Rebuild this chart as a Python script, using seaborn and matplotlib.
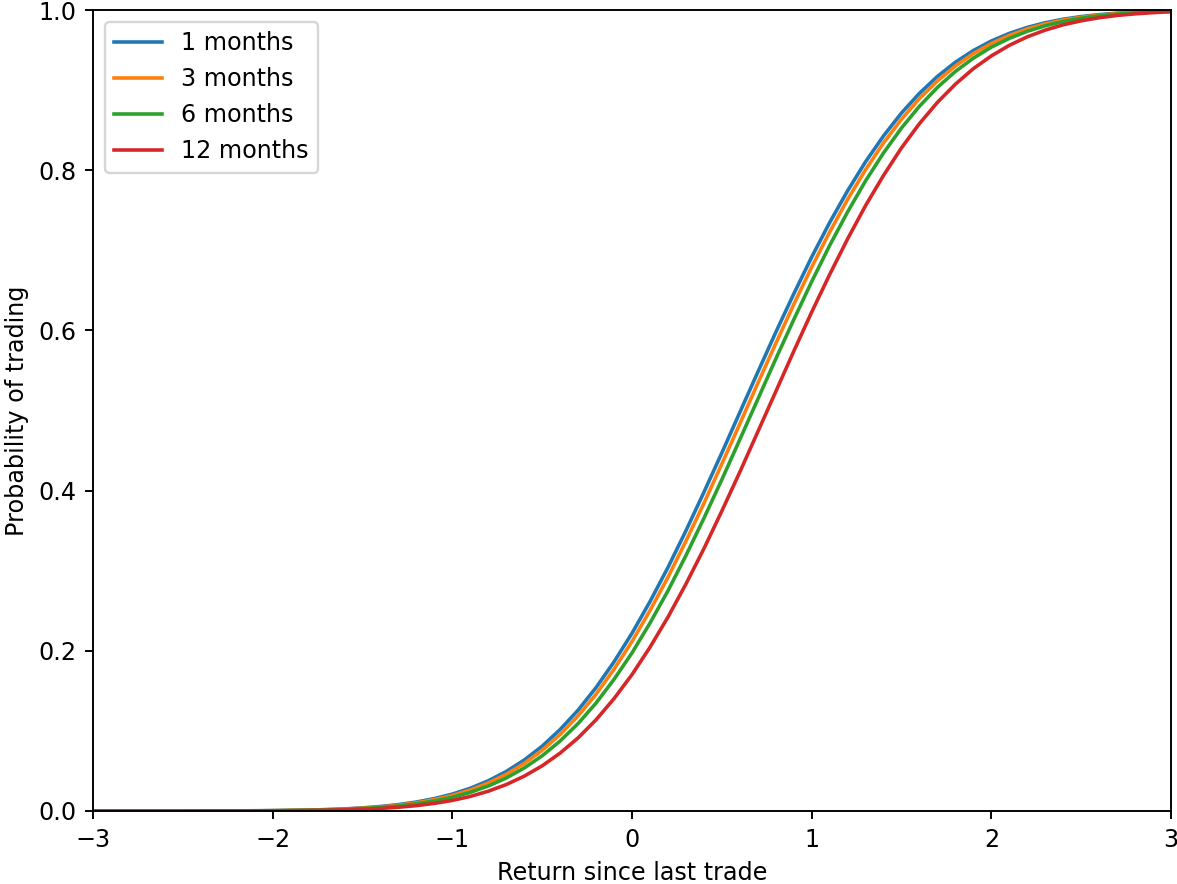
import numpy as np
import pandas as pd
import matplotlib
matplotlib.use("Agg")
import matplotlib.pyplot as plt
import seaborn as sns

# Return since last trade (evaluation grid)
returns = [-3.0, -2.9, -2.8, -2.7, -2.6, -2.5, -2.4, -2.3, -2.2, -2.1,
           -2.0, -1.9, -1.8, -1.7, -1.6, -1.5, -1.4, -1.3, -1.2, -1.1,
           -1.0, -0.9, -0.8, -0.7, -0.6, -0.5, -0.4, -0.3, -0.2, -0.1,
           0.0, 0.1, 0.2, 0.3, 0.4, 0.5, 0.6, 0.7, 0.8, 0.9,
           1.0, 1.1, 1.2, 1.3, 1.4, 1.5, 1.6, 1.7, 1.8, 1.9,
           2.0, 2.1, 2.2, 2.3, 2.4, 2.5, 2.6, 2.7, 2.8, 2.9,
           3.0]

horizons = ["1 months", "3 months", "6 months", "12 months"]

# Probability of trading for each holding horizon
prob_1m = [0.0000, 0.0000, 0.0000, 0.0000, 0.0000, 0.0000, 0.0001, 0.0001, 0.0002, 0.0003,
           0.0005, 0.0008, 0.0012, 0.0018, 0.0026, 0.0039, 0.0056, 0.0080, 0.0112, 0.0155,
           0.0211, 0.0284, 0.0377, 0.0493, 0.0636, 0.0809, 0.1017, 0.1259, 0.1541, 0.1862,
           0.2219, 0.2614, 0.3040, 0.3498, 0.3978, 0.4471, 0.4976, 0.5478, 0.5975, 0.6454,
           0.6915, 0.7346, 0.7743, 0.8105, 0.8428, 0.8714, 0.8960, 0.9171, 0.9348, 0.9494,
           0.9613, 0.9708, 0.9783, 0.9841, 0.9885, 0.9918, 0.9942, 0.9960, 0.9973, 0.9982,
           0.9988]
prob_3m = [0.0000, 0.0000, 0.0000, 0.0000, 0.0000, 0.0000, 0.0001, 0.0001, 0.0002, 0.0003,
           0.0004, 0.0007, 0.0010, 0.0016, 0.0023, 0.0035, 0.0050, 0.0072, 0.0102, 0.0142,
           0.0194, 0.0262, 0.0349, 0.0458, 0.0593, 0.0758, 0.0955, 0.1188, 0.1459, 0.1770,
           0.2116, 0.2502, 0.2918, 0.3369, 0.3840, 0.4333, 0.4833, 0.5339, 0.5836, 0.6323,
           0.6790, 0.7227, 0.7636, 0.8006, 0.8341, 0.8637, 0.8895, 0.9115, 0.9301, 0.9456,
           0.9581, 0.9683, 0.9764, 0.9826, 0.9874, 0.9909, 0.9936, 0.9956, 0.9970, 0.9979,
           0.9986]
prob_6m = [0.0000, 0.0000, 0.0000, 0.0000, 0.0000, 0.0000, 0.0001, 0.0001, 0.0001, 0.0002,
           0.0004, 0.0006, 0.0009, 0.0013, 0.0020, 0.0030, 0.0044, 0.0063, 0.0089, 0.0125,
           0.0171, 0.0233, 0.0312, 0.0412, 0.0537, 0.0689, 0.0874, 0.1092, 0.1348, 0.1644,
           0.1974, 0.2346, 0.2749, 0.3189, 0.3654, 0.4137, 0.4637, 0.5140, 0.5643, 0.6133,
           0.6609, 0.7060, 0.7479, 0.7867, 0.8216, 0.8527, 0.8799, 0.9034, 0.9233, 0.9399,
           0.9536, 0.9646, 0.9734, 0.9803, 0.9856, 0.9897, 0.9927, 0.9949, 0.9965, 0.9976,
           0.9984]
prob_12m = [0.0000, 0.0000, 0.0000, 0.0000, 0.0000, 0.0000, 0.0000, 0.0001, 0.0001, 0.0002,
            0.0002, 0.0004, 0.0006, 0.0010, 0.0015, 0.0022, 0.0032, 0.0047, 0.0067, 0.0095,
            0.0132, 0.0182, 0.0247, 0.0330, 0.0435, 0.0564, 0.0723, 0.0913, 0.1139, 0.1403,
            0.1703, 0.2044, 0.2420, 0.2833, 0.3274, 0.3745, 0.4231, 0.4733, 0.5235, 0.5738,
            0.6228, 0.6697, 0.7142, 0.7558, 0.7935, 0.8279, 0.8582, 0.8847, 0.9074, 0.9268,
            0.9427, 0.9559, 0.9665, 0.9749, 0.9815, 0.9865, 0.9903, 0.9932, 0.9952, 0.9967,
            0.9978]

series = [prob_1m, prob_3m, prob_6m, prob_12m]
colors = sns.color_palette("tab10", 4)

DPI = 172
W, H = 1177, 884
fig = plt.figure(figsize=(W / DPI, H / DPI), dpi=DPI)
ax = fig.add_axes([93 / W, 1 - 811 / H, (1171 - 93) / W, (811 - 10) / H])

for label, values, color in zip(horizons, series, colors):
    df = pd.DataFrame({"ret": returns, "prob": values})
    sns.lineplot(data=df, x="ret", y="prob", ax=ax, color=color, label=label,
                 linewidth=1.5, sort=True)

ax.set_xlim(-3, 3)
ax.set_ylim(0, 1)
ax.set_xlabel("Return since last trade")
ax.set_ylabel("Probability of trading")
ax.legend(loc="upper left")

fig.savefig("out.png", dpi=DPI)
